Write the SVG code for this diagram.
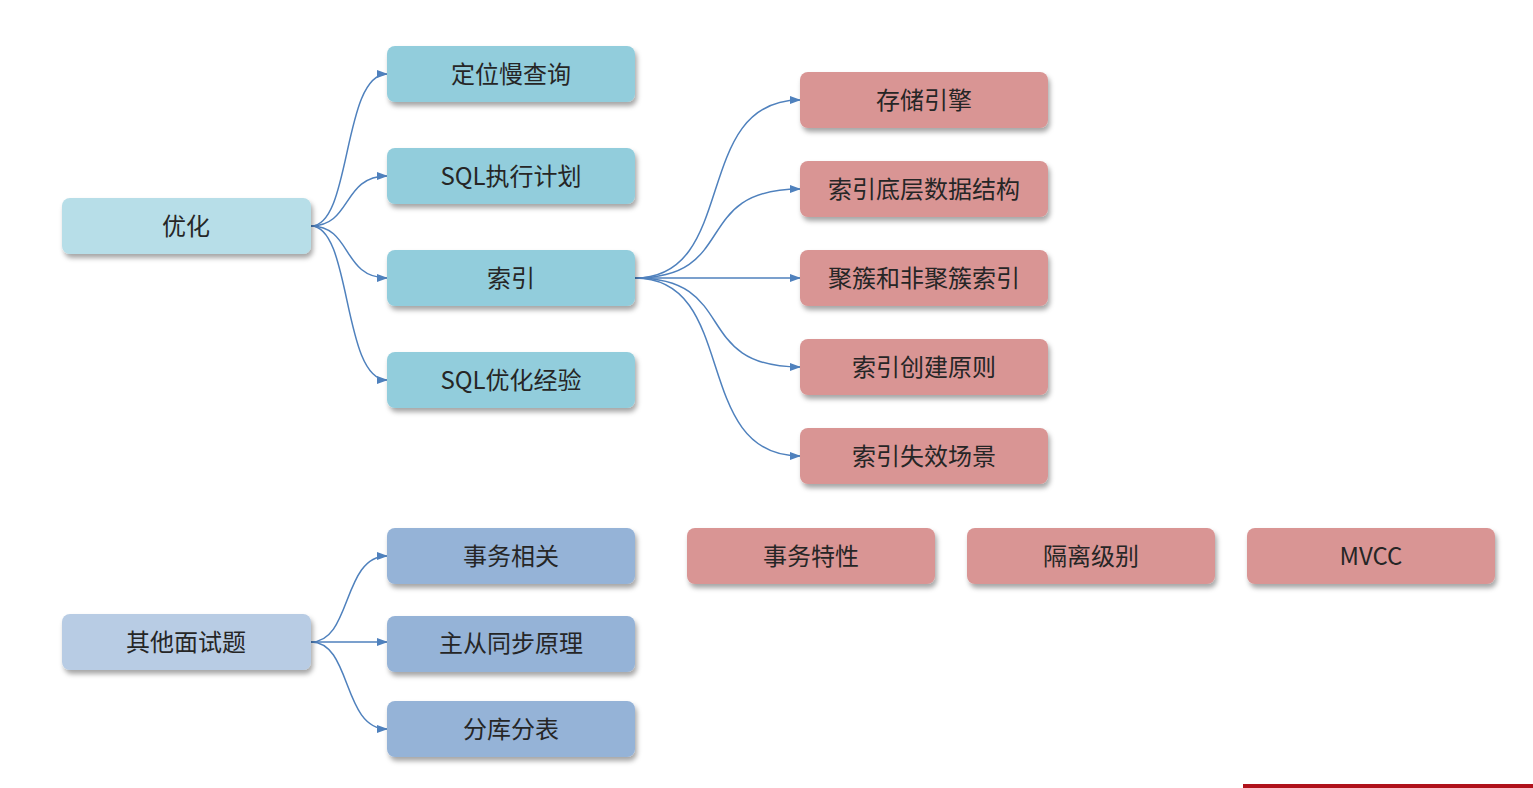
<svg xmlns="http://www.w3.org/2000/svg" width="1533" height="788" viewBox="0 0 1533 788">
<defs>
<filter id="sh" x="-10%" y="-20%" width="125%" height="160%">
<feDropShadow dx="2" dy="4" stdDeviation="2.5" flood-color="#000" flood-opacity="0.35"/>
</filter>
<marker id="ar" markerWidth="11" markerHeight="10" refX="10" refY="5" orient="auto" markerUnits="userSpaceOnUse">
<path d="M0,1 L11,5 L0,9 Z" fill="#4f81bd"/>
</marker>
<style>
.n rect{filter:url(#sh)}
.t{font-family:"Noto Sans CJK SC","Microsoft YaHei",sans-serif;font-size:24px;fill:#262626;text-anchor:middle;dominant-baseline:central}
.c path{fill:none;stroke:#4f81bd;stroke-width:1.5;marker-end:url(#ar)}
.lt{fill:#b7dee8}
.tl{fill:#92cddc}
.rd{fill:#d99594}
.lb{fill:#b8cce4}
.bl{fill:#95b3d7}
</style>
</defs>
<rect width="1533" height="788" fill="#ffffff"/>
<g class="c" id="connectors">
<path d="M311,226 C352,226 342,74 387,74"/>
<path d="M311,226 C352,226 342,176 387,176"/>
<path d="M311,226 C352,226 342,278 387,278"/>
<path d="M311,226 C352,226 342,380 387,380"/>
<path d="M635,278 C740,278 690,100 800,100"/>
<path d="M635,278 C740,278 690,189 800,189"/>
<path d="M635,278 L800,278"/>
<path d="M635,278 C740,278 690,367 800,367"/>
<path d="M635,278 C740,278 690,456 800,456"/>
<path d="M311,642 C352,642 342,556 387,556"/>
<path d="M311,642 L387,642"/>
<path d="M311,642 C352,642 342,729 387,729"/>
</g>
<g class="n" id="n-youhua"><rect class="lt" x="62" y="198" width="249" height="56" rx="8"/><text class="t" x="186" y="224">优化</text></g>
<g class="n" id="n-dingwei"><rect class="tl" x="387" y="46" width="248" height="56" rx="8"/><text class="t" x="511" y="72">定位慢查询</text></g>
<g class="n" id="n-sqlplan"><rect class="tl" x="387" y="148" width="248" height="56" rx="8"/><text class="t" x="511" y="174">SQL执行计划</text></g>
<g class="n" id="n-suoyin"><rect class="tl" x="387" y="250" width="248" height="56" rx="8"/><text class="t" x="511" y="276">索引</text></g>
<g class="n" id="n-sqlopt"><rect class="tl" x="387" y="352" width="248" height="56" rx="8"/><text class="t" x="511" y="378">SQL优化经验</text></g>
<g class="n" id="n-engine"><rect class="rd" x="800" y="72" width="248" height="56" rx="8"/><text class="t" x="924" y="98">存储引擎</text></g>
<g class="n" id="n-struct"><rect class="rd" x="800" y="161" width="248" height="56" rx="8"/><text class="t" x="924" y="187">索引底层数据结构</text></g>
<g class="n" id="n-cluster"><rect class="rd" x="800" y="250" width="248" height="56" rx="8"/><text class="t" x="924" y="276">聚簇和非聚簇索引</text></g>
<g class="n" id="n-create"><rect class="rd" x="800" y="339" width="248" height="56" rx="8"/><text class="t" x="924" y="365">索引创建原则</text></g>
<g class="n" id="n-invalid"><rect class="rd" x="800" y="428" width="248" height="56" rx="8"/><text class="t" x="924" y="454">索引失效场景</text></g>
<g class="n" id="n-other"><rect class="lb" x="62" y="614" width="249" height="56" rx="8"/><text class="t" x="186" y="640">其他面试题</text></g>
<g class="n" id="n-tx"><rect class="bl" x="387" y="528" width="248" height="56" rx="8"/><text class="t" x="511" y="554">事务相关</text></g>
<g class="n" id="n-repl"><rect class="bl" x="387" y="616" width="248" height="56" rx="8"/><text class="t" x="511" y="641">主从同步原理</text></g>
<g class="n" id="n-shard"><rect class="bl" x="387" y="701" width="248" height="56" rx="8"/><text class="t" x="511" y="727">分库分表</text></g>
<g class="n" id="n-acid"><rect class="rd" x="687" y="528" width="248" height="56" rx="8"/><text class="t" x="811" y="554">事务特性</text></g>
<g class="n" id="n-iso"><rect class="rd" x="967" y="528" width="248" height="56" rx="8"/><text class="t" x="1091" y="554">隔离级别</text></g>
<g class="n" id="n-mvcc"><rect class="rd" x="1247" y="528" width="248" height="56" rx="8"/><text class="t" x="1371" y="554">MVCC</text></g>
<rect x="1243" y="784" width="290" height="4" fill="#b0121b"/>
</svg>
